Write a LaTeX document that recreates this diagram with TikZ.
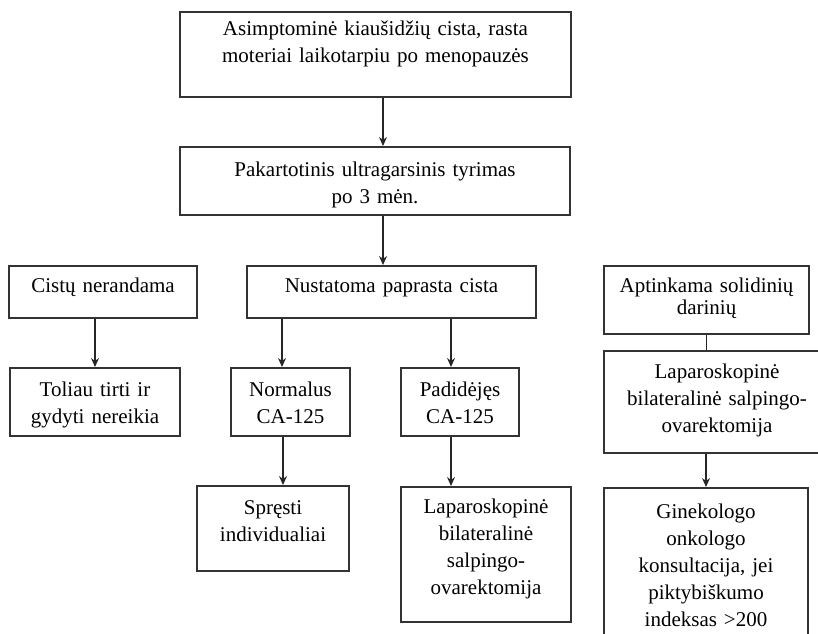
\documentclass[tikz,border=0pt]{standalone}
\usepackage{fontspec}
\setmainfont{Liberation Serif}
\usetikzlibrary{arrows.meta}
\tikzset{
  box/.style={draw=black!80, line width=1.5pt, anchor=north, align=center,
    inner xsep=0pt, inner ysep=0pt, font=\fontsize{21}{27}\selectfont},
  arr/.style={line width=1.4pt, draw=black!85, -{Stealth[length=9pt,width=8pt]}},
  plain/.style={line width=1.4pt, draw=black!85},
}
\begin{document}
\begin{tikzpicture}[x=1pt,y=-1pt]
  \useasboundingbox (0,0) rectangle (818,633);
  \clip (0,0) rectangle (818,633);
  % main column
  \node[box, text width=391pt, text height=24pt, text depth=61pt] (top) at (375.5,11)
    {Asimptominė kiaušidžių cista, rasta\\moteriai laikotarpiu po menopauzės};
  \node[box, text width=390pt, text height=30pt, text depth=38pt] (rep) at (375,146)
    {Pakartotinis ultragarsinis tyrimas\\po 3 mėn.};
  \node[box, text width=188pt, text height=27pt, text depth=25pt] (cist) at (103,265)
    {Cistų nerandama};
  \node[box, text width=289pt, text height=27pt, text depth=25pt] (nust) at (391.5,265)
    {Nustatoma paprasta cista};
  \node[box, text width=205pt, text height=27pt, text depth=41pt] (apt) at (706.5,265)
    {Aptinkama solidinių\\[-5pt]darinių};
  \node[box, text width=170pt, text height=29pt, text depth=39pt] (toliau) at (95,367)
    {Toliau tirti ir\\gydyti nereikia};
  \node[box, text width=119pt, text height=29pt, text depth=39pt] (norm) at (290.5,367)
    {Normalus\\CA-125};
  \node[box, text width=118pt, text height=29pt, text depth=39pt] (padid) at (460,367)
    {Padidėjęs\\CA-125};
  \node[box, text width=152pt, text height=29pt, text depth=56pt] (spr) at (273,485)
    {Spręsti\\individualiai};
  \node[box, text width=170pt, text height=27pt, text depth=108pt] (lapm) at (486,486)
    {Laparoskopinė\\bilateralinė\\salpingo-\\ovarektomija};
  \node[box, text width=226pt, text height=28pt, text depth=74pt] (lapr) at (717,350)
    {Laparoskopinė\\bilateralinė salpingo-\\ovarektomija};
  \node[box, text width=204pt, text height=31pt, text depth=140pt] (gin) at (706,487)
    {Ginekologo\\onkologo\\konsultacija, jei\\piktybiškumo\\indeksas >200};

  \draw[arr] ([xshift=7.5pt]top.south) -- ([xshift=7.5pt]top.south |- rep.north);
  \draw[arr] ([xshift=8pt]rep.south) -- ([xshift=8pt]rep.south |- nust.north);
  \draw[arr] (toliau.north |- cist.south) -- (toliau.north);
  \draw[arr] ([xshift=-8.5pt]norm.north |- nust.south) -- ([xshift=-8.5pt]norm.north);
  \draw[arr] ([xshift=-9pt]padid.north |- nust.south) -- ([xshift=-9pt]padid.north);
  \draw[arr] ([xshift=-7.5pt]norm.south) -- ([xshift=-7.5pt]norm.south |- spr.north);
  \draw[arr] ([xshift=-9pt]padid.south) -- ([xshift=-9pt]padid.south |- lapm.north);
  \draw[plain] (apt.south) -- (apt.south |- lapr.north);
  \draw[arr] (gin.north |- lapr.south) -- (gin.north);
\end{tikzpicture}
\end{document}
